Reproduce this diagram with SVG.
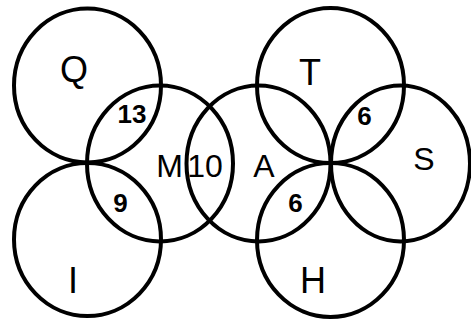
<svg xmlns="http://www.w3.org/2000/svg" width="471" height="320" viewBox="0 0 471 320">
<style>
.c{fill:none;stroke:#000;stroke-width:4}
.big{font-family:"Liberation Sans",Arial,sans-serif;font-size:36px;fill:#000;text-anchor:middle}
.mid{font-family:"Liberation Sans",Arial,sans-serif;font-size:32px;fill:#000;text-anchor:middle}
.num{font-family:"Liberation Sans",Arial,sans-serif;font-size:26px;font-weight:bold;fill:#000;text-anchor:middle}
</style>
<rect width="471" height="320" fill="#fff"/>
<g id="Q"><ellipse class="c" cx="87.5" cy="85.5" rx="73.5" ry="77"/><text class="big" x="74" y="82">Q</text></g>
<g id="I"><ellipse class="c" cx="87.5" cy="239.5" rx="73.5" ry="76.5"/><text class="big" x="73" y="293">I</text></g>
<g id="M"><ellipse class="c" cx="160" cy="163.5" rx="73" ry="78"/><text class="mid" x="169.5" y="177">M</text></g>
<g id="A"><ellipse class="c" cx="258.5" cy="163.5" rx="72" ry="78"/><text class="mid" x="264" y="177">A</text></g>
<g id="T"><ellipse class="c" cx="330.5" cy="85.5" rx="73.5" ry="77.5"/><text class="big" x="310" y="85">T</text></g>
<g id="H"><ellipse class="c" cx="330.5" cy="240" rx="73.5" ry="77"/><text class="big" x="313" y="293">H</text></g>
<g id="S"><ellipse class="c" cx="400.5" cy="163.5" rx="69.5" ry="78"/><text class="mid" x="424" y="170">S</text></g>
<g id="labels">
<text class="mid" x="205" y="177">10</text>
<text class="num" x="132" y="123">13</text>
<text class="num" x="120.5" y="212">9</text>
<text class="num" x="364.5" y="125">6</text>
<text class="num" x="295.5" y="212">6</text>
</g>
<g id="connectors"/>
</svg>
